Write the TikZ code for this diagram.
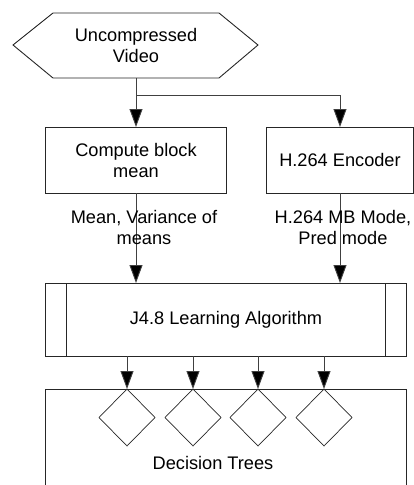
\documentclass[tikz,border=0pt]{standalone}
\usepackage{fontspec}
\setmainfont{Liberation Sans}
\usetikzlibrary{arrows.meta,shapes.geometric}
\begin{document}
\begin{tikzpicture}[x=1pt,y=-1pt,
  line width=0.9pt,
  boxline/.style={draw=black!85},
  conn/.style={draw=black!75,-{Triangle[width=13pt,length=18pt,fill=black]}},
  lbl/.style={font=\fontsize{18.2}{21}\selectfont,align=center,inner sep=0pt},
  dia/.style={draw=black!85,line width=0.7pt}]
\useasboundingbox (0,0) rectangle (414,485);
\clip (0,0) rectangle (414,485);

% source hexagon
\draw[boxline] (53,13) -- (219,13) -- (258,45) -- (219,78) -- (53,78) -- (13,45) -- cycle;
\node[lbl] (src) at (136,45) {Uncompressed\\Video};
\coordinate (srcb) at (136,78);
\coordinate (split) at (136,95);

% processing blocks
\draw[boxline] (45,127) rectangle (226,193);
\node[lbl] (mean) at (136,160) {Compute block\\mean};
\coordinate (meant) at (136,127);
\coordinate (meanb) at (136,193);
\draw[boxline] (266,127) rectangle (413,193);
\node[lbl] (enc) at (340,160) {H.264 Encoder};
\coordinate (enct) at (340,127);
\coordinate (encb) at (340,193);

% learning block
\draw[boxline] (45,283) rectangle (406,356);
\draw[boxline] (66,283) -- (66,356) (385,283) -- (385,356);
\node[lbl] (learn) at (226,320) {J4.8 Learning Algorithm};
\coordinate (learnl) at (136,283);
\coordinate (learnr) at (340,283);

% edges with feature labels
\draw[conn] (srcb) -- (meant);
\draw[conn] (split) -- (340,95) -- (enct);
\draw[conn] (meanb) -- (learnl);
\draw[conn] (encb) -- (learnr);
\node[lbl] (f1) at (144,227) {Mean, Variance of\\means};
\node[lbl] (f2) at (343,227) {H.264 MB Mode,\\Pred mode};

% decision trees
\draw[boxline] (45,500) -- (45,389) -- (406,389) -- (406,500);
\foreach \i/\x in {1/127,2/193,3/258,4/324}{
  \draw[dia] (\x,389) -- (\x+28,417.5) -- (\x,446) -- (\x-28,417.5) -- cycle;
  \coordinate (t\i) at (\x,389);
  \coordinate (s\i) at (\x,356);
  \draw[conn] (s\i) -- (t\i);
}
\node[lbl] (trees) at (213,463) {Decision Trees};
\end{tikzpicture}
\end{document}
